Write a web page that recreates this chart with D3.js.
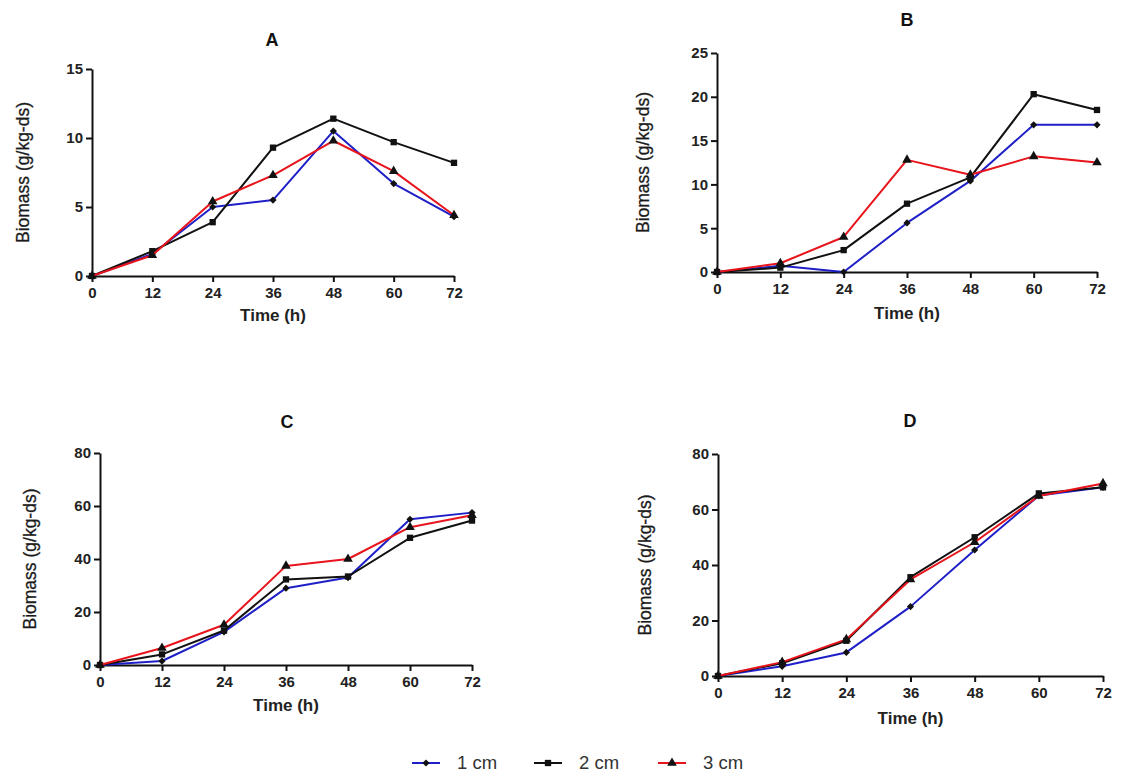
<!DOCTYPE html>
<html>
<head>
<meta charset="utf-8">
<script src="https://cdn.jsdelivr.net/npm/d3@7"></script>
<style>
  html, body { margin: 0; padding: 0; background: #ffffff; }
  svg { display: block; }
  .tick text { font-family: "Liberation Sans", Arial, sans-serif; font-weight: bold; font-size: 15px; fill: #222; }
</style>
</head>
<body>
<svg id="chart" width="1128" height="774"></svg>
<script>
// Sampling times (h)
const times = [0, 12, 24, 36, 48, 60, 72];
const xTicks = [0, 12, 24, 36, 48, 60, 72];

// Series labels, colours and marker shapes
const seriesNames = ["1 cm", "2 cm", "3 cm"];
const seriesColors = ["#1f1fc8", "#111111", "#e8141c"];
const seriesSymbols = [d3.symbolSquare, d3.symbolSquare, d3.symbolTriangle];
const seriesSymbolSize = [26, 40, 40];
const seriesSymbolRotate = [45, 0, 0];

// Biomass (g/kg-ds), one array per panel and bed depth
const panelA_1cm = [0, 1.6, 5.0, 5.5, 10.5, 6.7, 4.3];
const panelA_2cm = [0, 1.8, 3.9, 9.3, 11.4, 9.7, 8.2];
const panelA_3cm = [0, 1.5, 5.4, 7.3, 9.8, 7.6, 4.4];

const panelB_1cm = [0, 0.7, 0, 5.6, 10.4, 16.8, 16.8];
const panelB_2cm = [0, 0.5, 2.5, 7.8, 10.8, 20.3, 18.5];
const panelB_3cm = [0, 1.0, 4.0, 12.8, 11.1, 13.2, 12.5];

const panelC_1cm = [0, 1.5, 12.5, 29, 33, 55, 57.5];
const panelC_2cm = [0, 4, 13, 32.3, 33.4, 48, 54.5];
const panelC_3cm = [0, 6.4, 15.2, 37.4, 40, 52, 56.5];

const panelD_1cm = [0, 3.5, 8.5, 25, 45.4, 65, 68];
const panelD_2cm = [0, 4.6, 12.7, 35.6, 50, 65.8, 68];
const panelD_3cm = [0, 5, 13.2, 34.8, 48.2, 64.9, 69.4];

// Y-axis ticks per panel
const yTicksA = [0, 5, 10, 15];
const yTicksB = [0, 5, 10, 15, 20, 25];
const yTicksC = [0, 20, 40, 60, 80];
const yTicksD = [0, 20, 40, 60, 80];

const panels = [
  { title: "A", series: [panelA_1cm, panelA_2cm, panelA_3cm], yTicks: yTicksA,
    x0: 92, x1: 454, y0: 276, y1: 69, titleX: 272, titleY: 46, yLabX: 23, timeY: 321 },
  { title: "B", series: [panelB_1cm, panelB_2cm, panelB_3cm], yTicks: yTicksB,
    x0: 717, x1: 1097, y0: 272, y1: 53, titleX: 907, titleY: 26, yLabX: 643, timeY: 319 },
  { title: "C", series: [panelC_1cm, panelC_2cm, panelC_3cm], yTicks: yTicksC,
    x0: 100, x1: 472, y0: 665, y1: 453, titleX: 287, titleY: 428, yLabX: 30, timeY: 711 },
  { title: "D", series: [panelD_1cm, panelD_2cm, panelD_3cm], yTicks: yTicksD,
    x0: 718, x1: 1103, y0: 676, y1: 454, titleX: 910, titleY: 427, yLabX: 645, timeY: 724 }
];

const svg = d3.select("#chart");
const font = '"Liberation Sans", Arial, sans-serif';

function marker(i) {
  return d3.symbol().type(seriesSymbols[i]).size(seriesSymbolSize[i])();
}

panels.forEach(p => {
  const x = d3.scaleLinear().domain([0, 72]).range([p.x0, p.x1]);
  const y = d3.scaleLinear().domain([0, d3.max(p.yTicks)]).range([p.y0, p.y1]);
  const g = svg.append("g");

  // Axes
  const xAxis = g.append("g")
    .attr("transform", `translate(0,${p.y0})`)
    .call(d3.axisBottom(x).tickValues(xTicks).tickSize(6).tickPadding(5).tickSizeOuter(0));
  const yAxis = g.append("g")
    .attr("transform", `translate(${p.x0},0)`)
    .call(d3.axisLeft(y).tickValues(p.yTicks).tickSize(6).tickPadding(3).tickSizeOuter(0));
  [xAxis, yAxis].forEach(a => {
    a.select(".domain").attr("stroke", "#111").attr("stroke-width", 2);
    a.selectAll(".tick line").attr("stroke", "#111").attr("stroke-width", 2);
  });

  // Series lines and markers
  p.series.forEach((vals, i) => {
    const pts = times.map((t, k) => [t, vals[k]]);
    g.append("path")
      .datum(pts)
      .attr("fill", "none")
      .attr("stroke", seriesColors[i])
      .attr("stroke-width", 2)
      .attr("stroke-linejoin", "round")
      .attr("d", d3.line().x(d => x(d[0])).y(d => y(d[1])));
    g.selectAll(null)
      .data(pts)
      .join("path")
      .attr("transform", d => `translate(${x(d[0])},${y(d[1])}) rotate(${seriesSymbolRotate[i]})`)
      .attr("d", marker(i))
      .attr("fill", "#111");
  });

  // Panel letter
  g.append("text")
    .attr("x", p.titleX).attr("y", p.titleY)
    .attr("text-anchor", "middle")
    .attr("font-family", font).attr("font-weight", "bold").attr("font-size", 18)
    .attr("fill", "#111")
    .text(p.title);

  // Axis titles
  g.append("text")
    .attr("x", (p.x0 + p.x1) / 2).attr("y", p.timeY)
    .attr("text-anchor", "middle")
    .attr("font-family", font).attr("font-weight", "bold").attr("font-size", 17)
    .attr("fill", "#222")
    .text("Time (h)");
  g.append("text")
    .attr("transform", `translate(${p.yLabX},${(p.y0 + p.y1) / 2}) rotate(-90)`)
    .attr("text-anchor", "middle")
    .attr("dy", "0.35em")
    .attr("font-family", font).attr("font-size", 17.5)
    .attr("fill", "#1a1a1a")
    .attr("stroke", "#1a1a1a").attr("stroke-width", 0.3)
    .text("Biomass (g/kg-ds)");
});

// Shared legend along the bottom
const legendX = [412, 534, 658];
const legend = svg.append("g").attr("transform", "translate(0,763)");
seriesNames.forEach((name, i) => {
  const lg = legend.append("g").attr("transform", `translate(${legendX[i]},0)`);
  lg.append("line").attr("x1", 0).attr("x2", 28).attr("y1", 0).attr("y2", 0)
    .attr("stroke", seriesColors[i]).attr("stroke-width", 2);
  lg.append("path").attr("transform", `translate(14,0) rotate(${seriesSymbolRotate[i]})`)
    .attr("d", marker(i))
    .attr("fill", "#111");
  lg.append("text").attr("x", 45).attr("y", 0).attr("dy", "0.35em")
    .attr("font-family", font).attr("font-size", 18.5).attr("fill", "#333")
    .text(name);
});
</script>
</body>
</html>
